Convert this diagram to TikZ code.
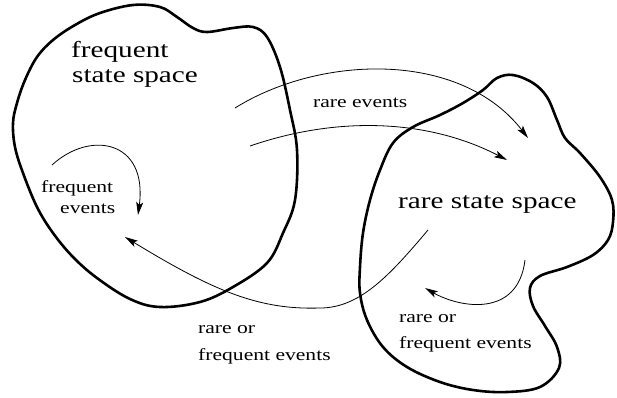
\documentclass[tikz,border=0pt]{standalone}
\usepackage{fontspec}
\setmainfont{Liberation Serif}
\newfontfamily\stretchserif[FakeStretch=1.27]{Liberation Serif}
\usetikzlibrary{arrows.meta}
\begin{document}
\begin{tikzpicture}[x=1pt,y=-1pt,
  blob/.style={line width=2.6pt, line join=round},
  flow/.style={line width=0.8pt, -{Stealth[length=13pt,width=7pt,inset=3pt]}},
  bigtext/.style={inner sep=0pt, anchor=base west, font=\stretchserif\fontsize{23}{25}\selectfont},
  smalltext/.style={inner sep=0pt, anchor=base west, font=\stretchserif\fontsize{17}{19}\selectfont}]
\useasboundingbox (0,0) rectangle (617,397);
% frequent state space blob
\draw[blob] plot[smooth cycle, tension=0.6] coordinates {
  (133,5) (160,7) (177,17) (193,28) (207,32) (233,28) (253,27) (267,37)
  (280,67) (290,110) (297,150) (295,200) (283,233) (267,263) (233,287)
  (200,302) (160,307) (130,299) (97,278) (73,257) (53,233) (37,207)
  (23,173) (15,147) (13,123) (17,103) (25,80) (37,57) (53,40) (75,25) (100,13)};
% rare state space blob
\draw[blob] plot[smooth cycle, tension=0.6] coordinates {
  (413,127) (440,115) (463,103) (483,90) (497,78) (513,75) (533,83)
  (547,97) (557,120) (565,138) (580,153) (600,177) (612,200) (613,222)
  (608,240) (593,255) (567,267) (540,276) (530,288) (533,306) (545,326)
  (557,347) (559,368) (540,387) (507,392) (473,390) (440,382) (407,367)
  (383,347) (367,320) (360,293) (360,267) (363,233) (370,200) (380,170) (393,143)};
% labels
\node[bigtext] (fss1) at (71,57) {frequent};
\node[bigtext] (fss2) at (72,82) {state space};
\node[bigtext] (rss) at (398,208) {rare state space};
\node[smalltext] (re) at (313,107) {rare events};
\node[smalltext] (fe1) at (41,192) {frequent};
\node[smalltext] (fe2) at (60,213) {events};
\node[smalltext] (rf1) at (198,333) {rare or};
\node[smalltext] (rf2) at (198,360) {frequent events};
\node[smalltext] (rr1) at (399,322) {rare or};
\node[smalltext] (rr2) at (399,348) {frequent events};
% arrow end points
\coordinate (a1s) at (235,108); \coordinate (a1e) at (528,138);
\coordinate (a2s) at (250,146); \coordinate (a2e) at (507,160);
\coordinate (a3s) at (52,165);  \coordinate (a3e) at (138,215);
\coordinate (a4s) at (428,230); \coordinate (a4m) at (320,308); \coordinate (a4e) at (125,237);
\coordinate (a5s) at (525,260); \coordinate (a5e) at (425,288);
% arrows
\draw[flow] (a1s) .. controls (320,55) and (460,50) .. (a1e);
\draw[flow] (a2s) .. controls (340,115) and (430,120) .. (a2e);
\draw[flow] (a3s) .. controls (90,130) and (148,140) .. (a3e);
\draw[flow] (a4s) .. controls (390,275) and (360,308) .. (a4m)
                  .. controls (260,310) and (215,292) .. (a4e);
\draw[flow] (a5s) .. controls (518,318) and (460,308) .. (a5e);
\end{tikzpicture}
\end{document}
